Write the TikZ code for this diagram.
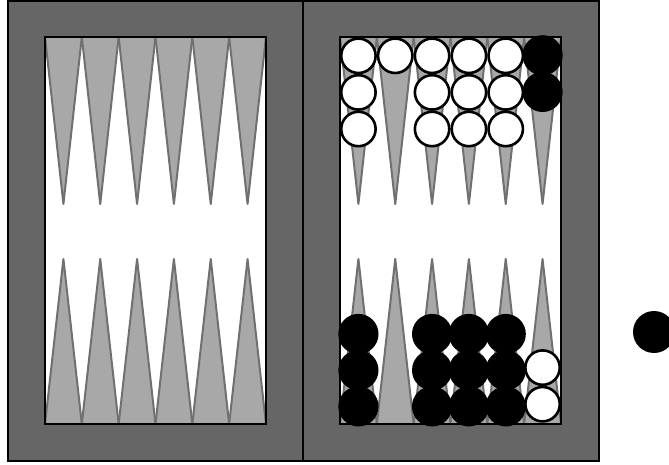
\documentclass[tikz,border=0pt]{standalone}
\begin{document}
\begin{tikzpicture}[x=1pt, y=-1pt,
    frame/.style={draw=black, line width=2.4pt, fill=black!60},
    field/.style={draw=black, line width=2.2pt},
    point/.style={draw=black!56, line width=2pt, fill=black!34, line join=round},
    wchecker/.style={circle, draw=black, line width=2.6pt, fill=white, minimum size=34.4pt, inner sep=0pt},
    bchecker/.style={circle, fill=black, minimum size=40.2pt, inner sep=0pt},
    offchecker/.style={circle, fill=black, minimum size=42pt, inner sep=0pt}
]
  \useasboundingbox (0,0) rectangle (669,465);
  % board halves
  \draw[frame] (8,1) rectangle (303,461);
  \draw[frame] (303,1) rectangle (599,461);
  \fill[white] (45,37) rectangle (266,424);
  \fill[white] (340,37) rectangle (561,424);
  % points
  \foreach \x in {45,340} {
    \foreach \i in {0,...,5} {
      \draw[point] ({\x+36.83*\i},37) -- ({\x+36.83*(\i+0.5)},204) -- ({\x+36.83*(\i+1)},37) -- cycle;
      \draw[point] ({\x+36.83*\i},424) -- ({\x+36.83*(\i+0.5)},259) -- ({\x+36.83*(\i+1)},424) -- cycle;
    }
  }
  \draw[field] (45,37) rectangle (266,424);
  \draw[field] (340,37) rectangle (561,424);
  % checkers, top
  \foreach \c/\n in {1/3,2/1,3/3,4/3,5/3}
    \foreach \r in {1,...,\n}
      \node[wchecker] (w-\c-\r) at ({340+36.83*(\c-0.5)},{37.5+36.6*(\r-0.5)}) {};
  \foreach \r in {1,2}
    \node[bchecker] (b-6-\r) at ({340+36.83*5.5},{37+36.6*(\r-0.5)}) {};
  % checkers, bottom
  \foreach \c in {1,3,4,5}
    \foreach \r in {1,2,3}
      \node[bchecker] (b-\c-\r) at ({340+36.83*(\c-0.5)},{424.5-36.2*(\r-0.5)}) {};
  \foreach \r in {1,2}
    \node[wchecker] (w-6-\r) at ({340+36.83*5.5},{422.5-36.6*(\r-0.5)}) {};
  % borne off
  \node[offchecker] (off) at (654,332) {};
\end{tikzpicture}
\end{document}
